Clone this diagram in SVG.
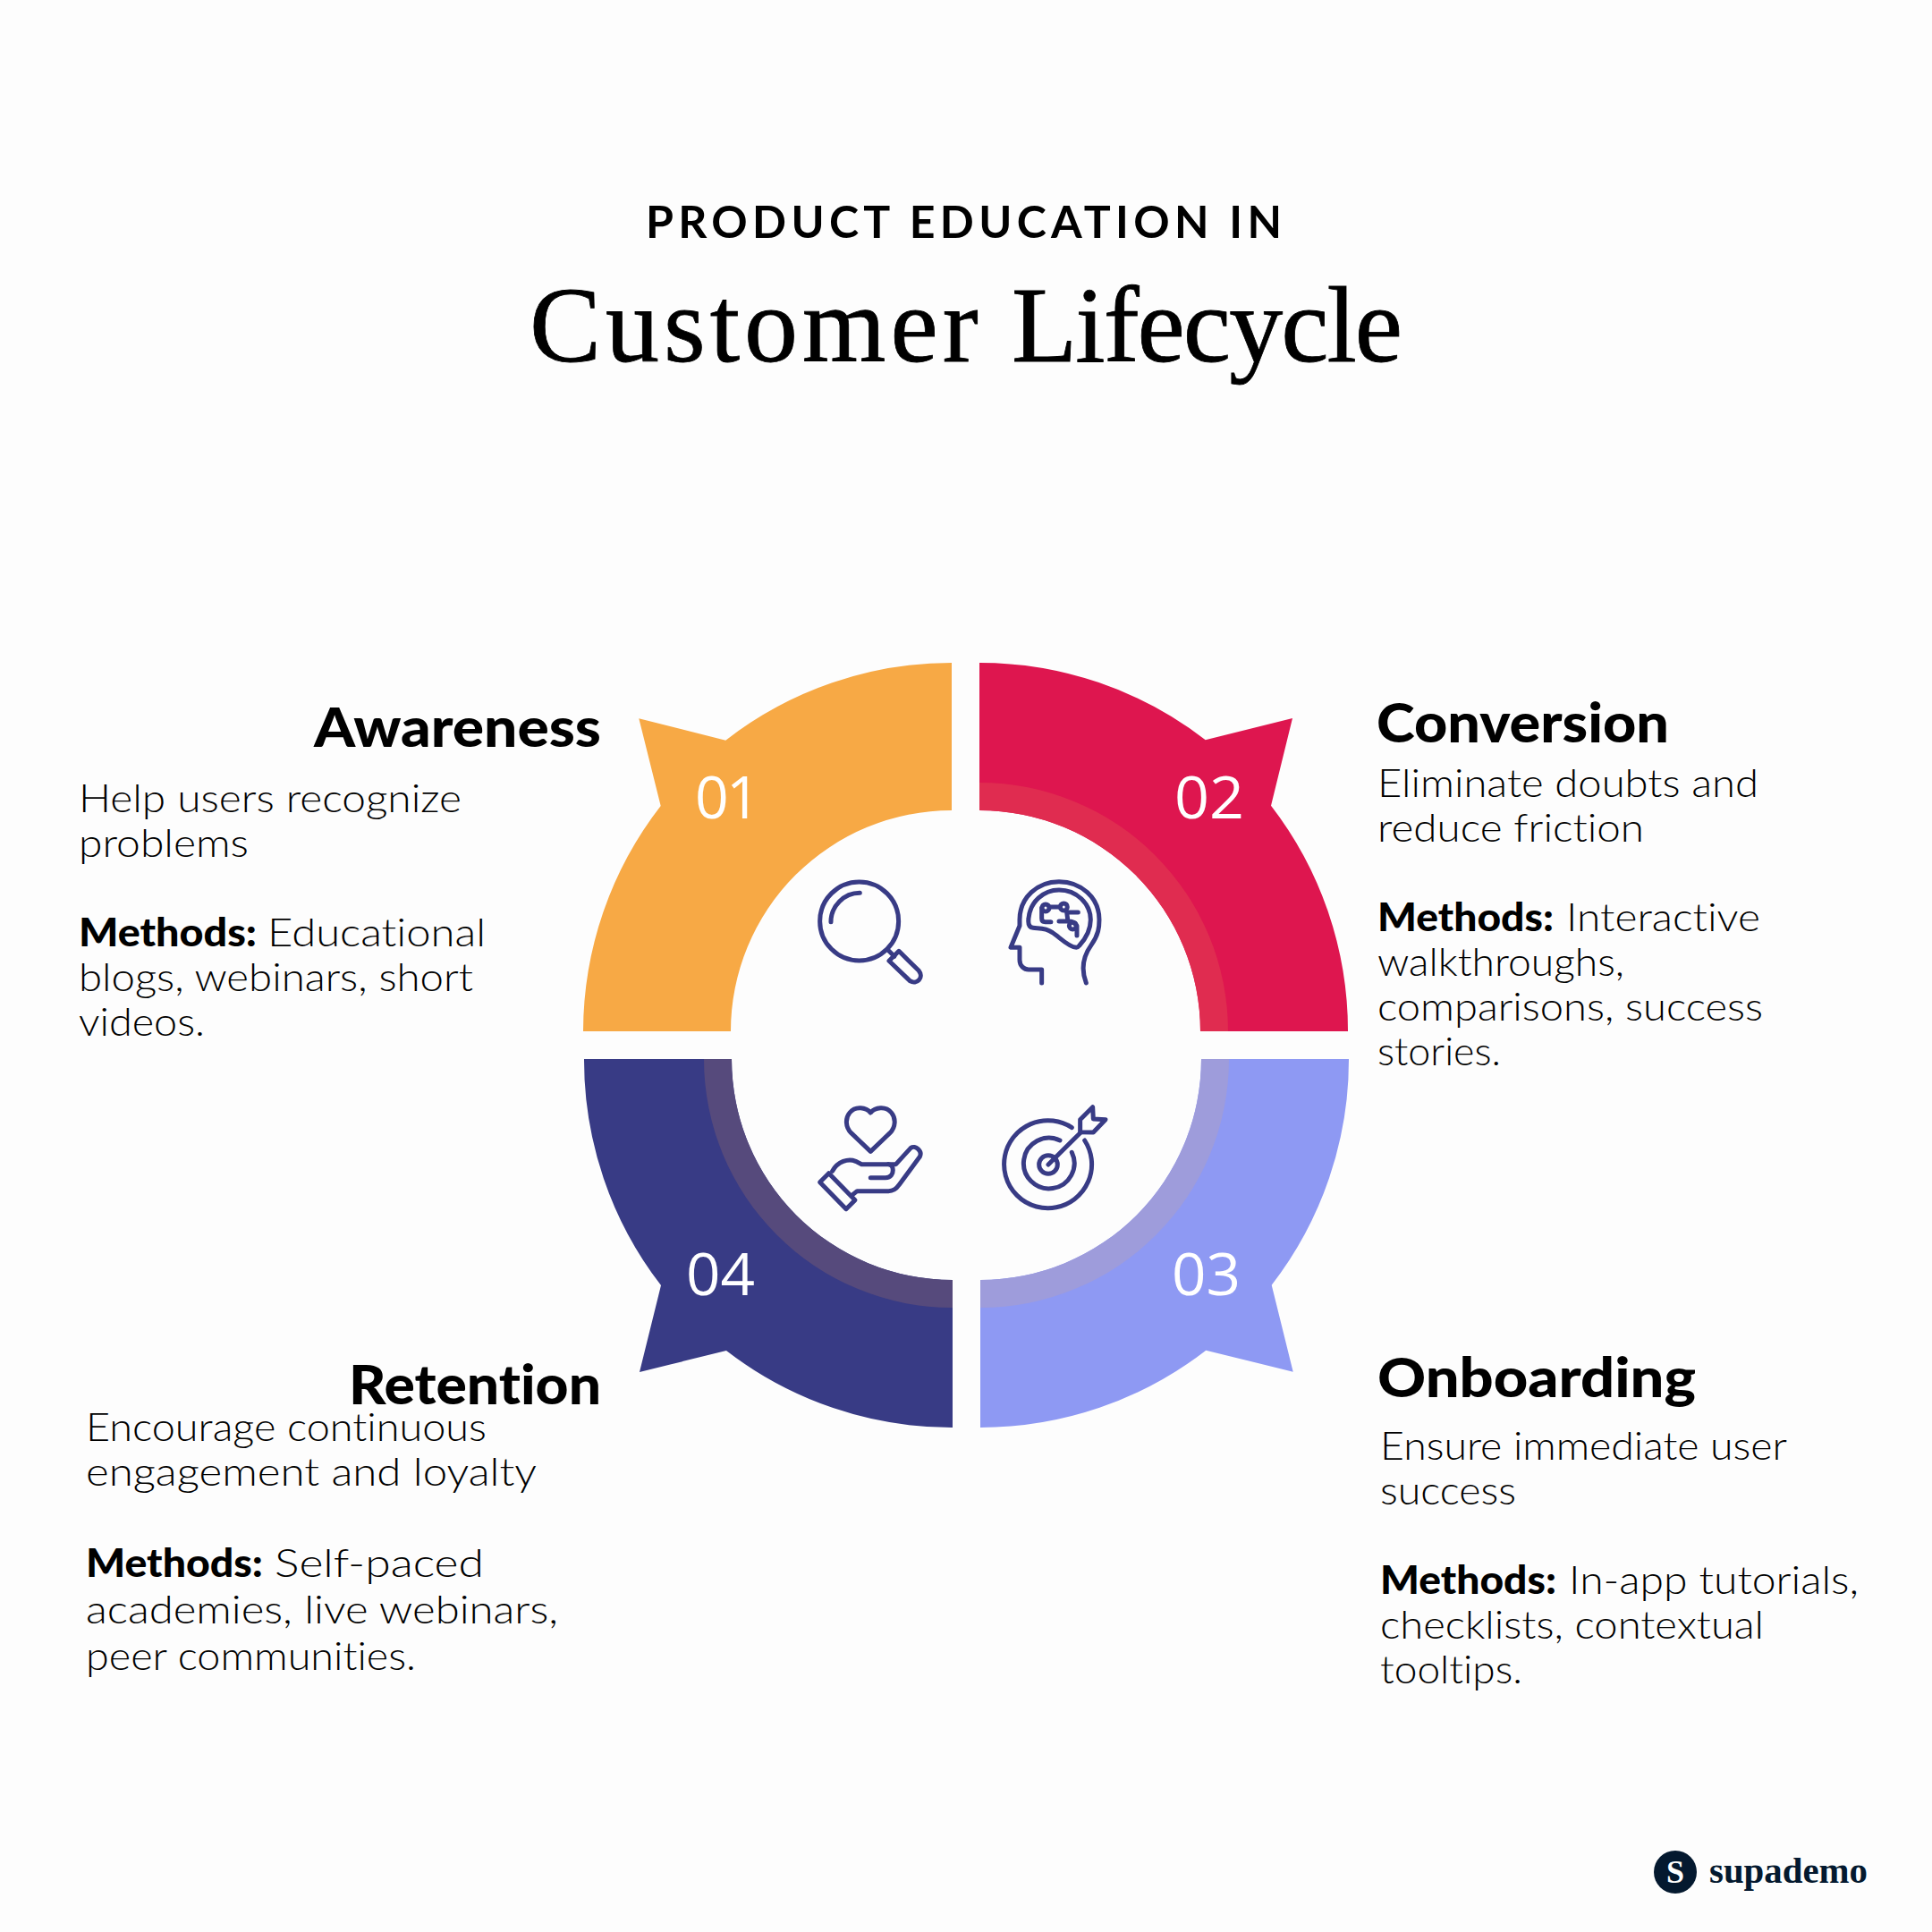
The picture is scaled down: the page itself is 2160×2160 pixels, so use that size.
<svg xmlns="http://www.w3.org/2000/svg" width="2160" height="2160" viewBox="0 0 2160 2160">
<style>
text{font-family:"Lato","Noto Sans",sans-serif;fill:#000;font-variant-ligatures:none}
.b{font-size:43px;font-weight:300}
.m{font-size:43px;font-weight:900}
.h{font-size:60px;font-weight:900}
.n{font-size:66px;font-weight:500;fill:#fff;font-family:"Open Sans",sans-serif}
.ic{fill:none;stroke:#383B85;stroke-width:15;stroke-linecap:round;stroke-linejoin:round}
</style>
<rect width="2160" height="2160" fill="#FDFDFD"/>
<g id="title">
<text x="722" y="266" font-size="50" font-weight="700" textLength="711">PRODUCT EDUCATION IN</text>
<text x="592" y="404" font-size="120" stroke="#000" stroke-width=".8" style="font-family:'Liberation Serif',serif"><tspan letter-spacing="5">Customer</tspan> <tspan x="1131" letter-spacing="-2">Lifecycle</tspan></text>
</g>
<g id="node-awareness">
<path fill="#F7A945" d="M652,1153A412,412 0 0 1 738.7,901L714.3,803.3L811.3,827.7A412,412 0 0 1 1064,741L1064,906A247,247 0 0 0 817,1153Z"/>
<text class="n" x="777 812" y="915">01</text>
<g transform="translate(620,720) scale(.3333)" class="ic">
<circle cx="1022" cy="930" r="132"/>
<path d="M1024,835C970,835 927,880 927,932"/>
<path d="M1118,1026L1140,1048"/>
<path d="M1155,1030L1222,1096C1240,1118 1215,1145 1192,1130L1122,1063Z"/>
</g>
<text class="h" x="351" y="835" textLength="321" lengthAdjust="spacingAndGlyphs">Awareness</text>
<text class="b" x="88" y="908" textLength="428" lengthAdjust="spacingAndGlyphs">Help users recognize</text>
<text class="b" x="88" y="958" textLength="190" lengthAdjust="spacingAndGlyphs">problems</text>
<text class="m" x="88" y="1058" textLength="199" lengthAdjust="spacingAndGlyphs">Methods:</text>
<text class="b" x="299" y="1058" textLength="244" lengthAdjust="spacingAndGlyphs">Educational</text>
<text class="b" x="88" y="1108" textLength="441" lengthAdjust="spacingAndGlyphs">blogs, webinars, short</text>
<text class="b" x="88" y="1158" textLength="141" lengthAdjust="spacingAndGlyphs">videos.</text>
</g>
<g id="node-conversion">
<path fill="#DE164F" d="M1095,741A412,412 0 0 1 1347.7,827.3L1445,803L1421,900.7A412,412 0 0 1 1507,1153L1342,1153A247,247 0 0 0 1095,906Z"/>
<path fill="#E02C50" d="M1095,875A278,278 0 0 1 1373,1153L1342,1153A247,247 0 0 0 1095,906Z"/>
<text class="n" x="1313" y="915" textLength="78" lengthAdjust="spacingAndGlyphs">02</text>
<g transform="translate(1060,720) scale(.3333)" class="ic">
<path d="M463,1137C445,1090 455,1045 480,1010C505,975 507,950 507,925C507,850 445,797 372,797C300,797 240,850 240,925L240,945L210,1018L240,1018L240,1060C240,1080 255,1092 270,1092L314,1092L314,1137"/>
<path d="M430,1018C405,1018 370,980 350,968C325,950 300,955 285,952C270,950 268,935 270,920C275,865 320,825 372,825C430,825 478,870 478,925C478,960 460,990 440,1012C436,1017 433,1018 430,1018Z"/>
<circle cx="327" cy="885" r="12"/><circle cx="388" cy="882" r="12"/><circle cx="418" cy="945" r="12"/>
<path d="M314,885L314,920Q314,932 326,932L345,932M340,882L375,882M400,900L436,900M372,930L405,930Q420,930 432,945L432,978M398,900L402,930"/>
</g>
<text class="h" x="1539" y="830" textLength="327" lengthAdjust="spacingAndGlyphs">Conversion</text>
<text class="b" x="1540" y="891" textLength="426" lengthAdjust="spacingAndGlyphs">Eliminate doubts and</text>
<text class="b" x="1540" y="941" textLength="298" lengthAdjust="spacingAndGlyphs">reduce friction</text>
<text class="m" x="1540" y="1041" textLength="197" lengthAdjust="spacingAndGlyphs">Methods:</text>
<text class="b" x="1751" y="1041" textLength="217" lengthAdjust="spacingAndGlyphs">Interactive</text>
<text class="b" x="1540" y="1091" textLength="276" lengthAdjust="spacingAndGlyphs">walkthroughs,</text>
<text class="b" x="1540" y="1141" textLength="431" lengthAdjust="spacingAndGlyphs">comparisons, success</text>
<text class="b" x="1540" y="1191" textLength="138" lengthAdjust="spacingAndGlyphs">stories.</text>
</g>
<g id="node-onboarding">
<path fill="#8E99F3" d="M1508,1184A412,412 0 0 1 1421.7,1436.7L1445.7,1533.7L1348.3,1509.7A412,412 0 0 1 1096,1596L1096,1431A247,247 0 0 0 1343,1184Z"/>
<path fill="#9E9CDB" d="M1374,1184A278,278 0 0 1 1096,1462L1096,1431A247,247 0 0 0 1343,1184Z"/>
<text class="n" x="1310" y="1448" textLength="77" lengthAdjust="spacingAndGlyphs">03</text>
<g transform="translate(1060,1170) scale(.3333)" class="ic">
<path d="M415,272A147,147 0 1 0 458,315"/>
<path d="M375,315A85,85 0 1 0 415,355"/>
<circle cx="336" cy="396" r="31"/>
<path d="M336,396L443,290"/>
<path d="M443,287L443,245L485,203L487,243L528,245L487,288Z"/>
</g>
<text class="h" x="1540" y="1562" textLength="356" lengthAdjust="spacingAndGlyphs">Onboarding</text>
<text class="b" x="1543" y="1632" textLength="455" lengthAdjust="spacingAndGlyphs">Ensure immediate user</text>
<text class="b" x="1543" y="1682" textLength="152" lengthAdjust="spacingAndGlyphs">success</text>
<text class="m" x="1543" y="1782" textLength="197" lengthAdjust="spacingAndGlyphs">Methods:</text>
<text class="b" x="1754" y="1782" textLength="324" lengthAdjust="spacingAndGlyphs">In-app tutorials,</text>
<text class="b" x="1543" y="1832" textLength="429" lengthAdjust="spacingAndGlyphs">checklists, contextual</text>
<text class="b" x="1543" y="1882" textLength="159" lengthAdjust="spacingAndGlyphs">tooltips.</text>
</g>
<g id="node-retention">
<path fill="#383B85" d="M1065,1596A412,412 0 0 1 812,1510L715,1534L739,1437A412,412 0 0 1 653,1184L818,1184A247,247 0 0 0 1065,1431Z"/>
<path fill="#564A7C" d="M787,1184L818,1184A247,247 0 0 0 1065,1431L1065,1462A278,278 0 0 1 787,1184Z"/>
<text class="n" x="767" y="1448" textLength="77" lengthAdjust="spacingAndGlyphs">04</text>
<g transform="translate(620,1170) scale(.3333)" class="ic">
<path d="M1060,352L995,290C975,270 975,240 990,222C1010,198 1045,205 1060,222C1075,205 1110,198 1130,222C1145,240 1145,270 1125,290Z"/>
<path d="M920,425L890,455L978,545L1008,515Z"/>
<path d="M932,418C950,385 985,375 1010,385L1030,395L1120,395L1145,395L1195,340C1210,330 1235,350 1225,370L1155,465C1145,480 1130,485 1120,485L1015,485L1000,497"/>
<path d="M1060,440L1110,440C1130,440 1135,425 1135,415C1135,405 1130,397 1120,395"/>
</g>
<text class="h" x="390" y="1570" textLength="282" lengthAdjust="spacingAndGlyphs">Retention</text>
<text class="b" x="96" y="1611" textLength="448" lengthAdjust="spacingAndGlyphs">Encourage continuous</text>
<text class="b" x="96" y="1661" textLength="504" lengthAdjust="spacingAndGlyphs">engagement and loyalty</text>
<text class="m" x="96" y="1763" textLength="198" lengthAdjust="spacingAndGlyphs">Methods:</text>
<text class="b" x="307" y="1763" textLength="234" lengthAdjust="spacingAndGlyphs">Self-paced</text>
<text class="b" x="96" y="1815" textLength="528" lengthAdjust="spacingAndGlyphs">academies, live webinars,</text>
<text class="b" x="96" y="1867" textLength="369" lengthAdjust="spacingAndGlyphs">peer communities.</text>
</g>
<g id="logo">
<circle cx="1873" cy="2093" r="24" fill="#04192F"/>
<text x="1873" y="2105" font-size="36" font-weight="700" text-anchor="middle" style="font-family:'Liberation Serif',serif;fill:#fff">S</text>
<text x="1911" y="2105" font-size="41" font-weight="700" textLength="177" lengthAdjust="spacingAndGlyphs" style="font-family:'Liberation Serif',serif;fill:#04192F">supademo</text>
</g>
</svg>
